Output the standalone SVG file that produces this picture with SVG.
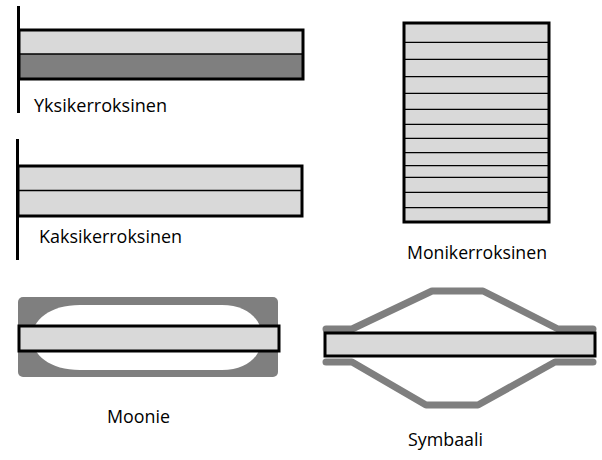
<svg xmlns="http://www.w3.org/2000/svg" width="602" height="460" viewBox="0 0 602 460">
<style>
.lbl{font-family:"Open Sans","Liberation Sans",sans-serif;font-size:19px;fill:#000}
.light{fill:#d9d9d9}
.dark{fill:#7f7f7f}
.frame{fill:none;stroke:#000;stroke-width:3}
.div{stroke:#000;stroke-width:1.3}
.post{stroke:#000;stroke-width:3}
.gline{fill:none;stroke:#7f7f7f;stroke-width:7;stroke-linejoin:round;stroke-linecap:round}
</style>
<rect width="602" height="460" fill="#fff"/>
<g id="yksikerroksinen">
<line class="post" x1="18.5" y1="6" x2="18.5" y2="113"/>
<rect class="light" x="19" y="30" width="284" height="24"/>
<rect class="dark" x="19" y="54" width="284" height="25"/>
<line class="div" x1="19" y1="54" x2="303" y2="54"/>
<rect class="frame" x="19" y="30" width="284" height="49"/>
<text class="lbl" x="34" y="112" textLength="133" lengthAdjust="spacingAndGlyphs">Yksikerroksinen</text>
</g>
<g id="kaksikerroksinen">
<line class="post" x1="17.5" y1="139" x2="17.5" y2="260"/>
<rect class="light" x="18" y="166" width="284" height="50"/>
<line class="div" x1="18" y1="190.5" x2="302" y2="190.5"/>
<rect class="frame" x="18" y="166" width="284" height="50"/>
<text class="lbl" x="39" y="243" textLength="143" lengthAdjust="spacingAndGlyphs">Kaksikerroksinen</text>
</g>
<g id="monikerroksinen">
<rect class="light" x="404" y="23" width="145" height="199"/>
<g class="div">
<line x1="404" y1="42.3" x2="549" y2="42.3"/>
<line x1="404" y1="59.3" x2="549" y2="59.3"/>
<line x1="404" y1="76.7" x2="549" y2="76.7"/>
<line x1="404" y1="93.3" x2="549" y2="93.3"/>
<line x1="404" y1="109.3" x2="549" y2="109.3"/>
<line x1="404" y1="124.3" x2="549" y2="124.3"/>
<line x1="404" y1="138.3" x2="549" y2="138.3"/>
<line x1="404" y1="152.7" x2="549" y2="152.7"/>
<line x1="404" y1="165.7" x2="549" y2="165.7"/>
<line x1="404" y1="177.3" x2="549" y2="177.3"/>
<line x1="404" y1="192.3" x2="549" y2="192.3"/>
<line x1="404" y1="207.7" x2="549" y2="207.7"/>
</g>
<rect class="frame" x="404" y="23" width="145" height="199"/>
<text class="lbl" x="407" y="259" textLength="140" lengthAdjust="spacingAndGlyphs">Monikerroksinen</text>
</g>
<g id="moonie">
<rect class="dark" x="18" y="297" width="260" height="80" rx="5"/>
<path fill="#fff" d="M80,305 H222 C248,305 262,320 262,337.5 C262,355 248,370 222,370 H80 C50,370 32,355 32,337.5 C32,320 50,305 80,305 Z"/>
<rect class="light" x="19" y="326" width="260" height="25"/>
<rect class="frame" x="19" y="326" width="260" height="25"/>
<text class="lbl" x="107" y="423" textLength="63" lengthAdjust="spacingAndGlyphs">Moonie</text>
</g>
<g id="symbaali">
<polyline class="gline" points="326,329 352,329 432,291 483,291 558,329 593,329"/>
<polyline class="gline" points="326,362 352,362 426,405 478,405 555,362 593,362"/>
<rect class="light" x="325" y="333" width="270" height="23"/>
<rect class="frame" x="325" y="333" width="270" height="23"/>
<text class="lbl" x="408" y="446" textLength="75" lengthAdjust="spacingAndGlyphs">Symbaali</text>
</g>
<g id="connectors"/>
</svg>
